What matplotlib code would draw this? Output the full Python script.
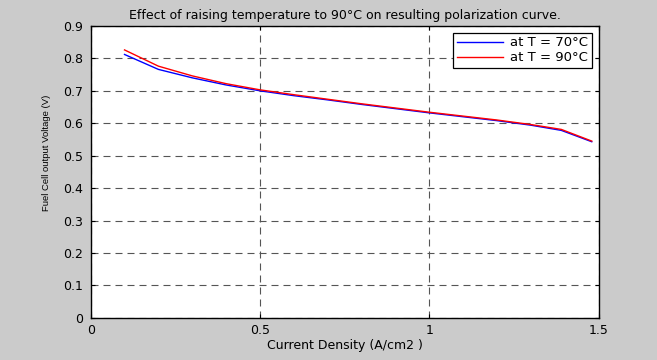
import matplotlib
matplotlib.use("Agg")
import matplotlib.pyplot as plt

plt.rcParams['font.family'] = ['DejaVu Sans']

current_density = [0.1, 0.2, 0.3, 0.4, 0.5, 0.6, 0.7, 0.8, 0.9, 1.0, 1.1, 1.2, 1.3, 1.39, 1.48]
v_70 = [0.812, 0.766, 0.740, 0.718, 0.700, 0.685, 0.672, 0.658, 0.645, 0.632, 0.620, 0.608, 0.594, 0.578, 0.543]
v_90 = [0.826, 0.776, 0.746, 0.722, 0.703, 0.688, 0.674, 0.660, 0.647, 0.634, 0.622, 0.610, 0.596, 0.581, 0.545]

x_ticks = [0, 0.5, 1, 1.5]
x_ticklabels = ['0', '0.5', '1', '1.5']
y_ticks = [0, 0.1, 0.2, 0.3, 0.4, 0.5, 0.6, 0.7, 0.8, 0.9]
y_ticklabels = ['0', '0.1', '0.2', '0.3', '0.4', '0.5', '0.6', '0.7', '0.8', '0.9']

title = 'Effect of raising temperature to 90°C on resulting polarization curve.'
xlabel = 'Current Density (A/cm2 )'
ylabel = 'Fuel Cell output Voltage (V)'
labels = ['at T = 70°C', 'at T = 90°C']

bg = '#cbcbcb'
fig = plt.figure(figsize=(6.57, 3.6), dpi=100, facecolor=bg)
ax = fig.add_axes([0.138, 0.117, 0.773, 0.811])
ax.set_facecolor('white')

ax.plot(current_density, v_70, color='#0000ff', lw=1.0, label=labels[0])
ax.plot(current_density, v_90, color='#ff0000', lw=1.0, label=labels[1])

ax.set_xlim(0, 1.5)
ax.set_ylim(0, 0.9)
ax.set_xticks(x_ticks)
ax.set_xticklabels(x_ticklabels)
ax.set_yticks(y_ticks)
ax.set_yticklabels(y_ticklabels)
ax.tick_params(direction='in', length=3, width=0.8, labelsize=9, top=True, right=True, colors='black')
ax.tick_params(axis='x', pad=4.5)
ax.tick_params(axis='y', pad=5.5)
ax.grid(True, color='#555555', linestyle=(0, (6.3, 4.5)), linewidth=0.8)
for s in ax.spines.values():
    s.set_linewidth(1.0)
    s.set_color('black')

ax.set_title(title, fontsize=9, pad=5)
ax.set_xlabel(xlabel, fontsize=9, labelpad=1)
ax.set_ylabel(ylabel, fontsize=6.8, family=['Liberation Sans', 'DejaVu Sans'])
ax.yaxis.set_label_coords(-0.079, 0.565)

leg = ax.legend(loc='upper right', fontsize=9.5, frameon=True, fancybox=False,
                edgecolor='black', framealpha=1, handlelength=3.5, borderpad=0.3,
                labelspacing=0.15, handletextpad=0.5, borderaxespad=0.5)
leg.get_frame().set_linewidth(0.9)

fig.savefig('out.png', dpi=100, facecolor=bg)
